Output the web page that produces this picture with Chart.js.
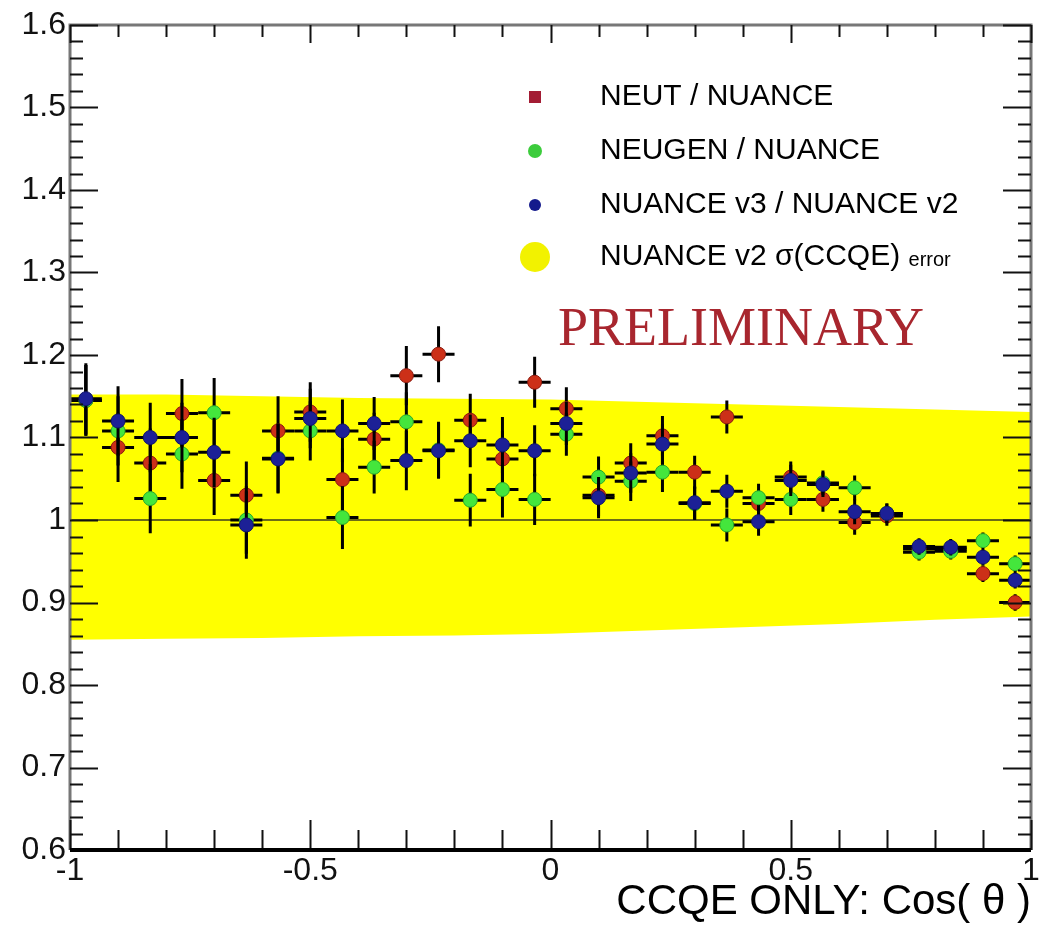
<!DOCTYPE html>
<html>
<head>
<meta charset="utf-8">
<script src="https://cdn.jsdelivr.net/npm/chart.js@4"></script>
<style>
  body { margin: 0; background: #fff; }
  canvas { display: block; }
</style>
</head>
<body>
<canvas id="ratioChart" width="1039" height="928"></canvas>
<script>
// bin centres in cos(theta), 30 bins over [-1, 1]
const binCenters = [-0.967, -0.9, -0.833, -0.767, -0.7, -0.633, -0.567, -0.5, -0.433, -0.367,
                    -0.3, -0.233, -0.167, -0.1, -0.033, 0.033, 0.1, 0.167, 0.233, 0.3,
                    0.367, 0.433, 0.5, 0.567, 0.633, 0.7, 0.767, 0.833, 0.9, 0.967];
const binHalfWidth = 0.0333;

const neutRatio = [1.145, 1.088, 1.069, 1.129, 1.048, 1.030, 1.108, 1.131, 1.049, 1.098,
                   1.175, 1.201, 1.121, 1.074, 1.167, 1.135, 1.030, 1.069, 1.102, 1.058,
                   1.125, 1.020, 1.052, 1.025, 0.997, 1.005, 0.965, 0.965, 0.935, 0.900];
const neugenRatio = [1.145, 1.108, 1.026, 1.080, 1.130, 1.000, 1.075, 1.108, 1.003, 1.064,
                     1.119, 1.085, 1.024, 1.037, 1.025, 1.104, 1.052, 1.047, 1.058, 1.020,
                     0.994, 1.027, 1.025, 1.045, 1.039, 1.008, 0.961, 0.962, 0.975, 0.947];
const nuanceV3Ratio = [1.147, 1.120, 1.100, 1.100, 1.082, 0.994, 1.074, 1.123, 1.108, 1.117,
                       1.072, 1.084, 1.096, 1.091, 1.084, 1.117, 1.027, 1.057, 1.092, 1.021,
                       1.035, 0.998, 1.048, 1.043, 1.010, 1.008, 0.968, 0.967, 0.955, 0.927];
const statError = [0.043, 0.042, 0.042, 0.042, 0.042, 0.041, 0.042, 0.036, 0.038, 0.032,
                   0.036, 0.034, 0.032, 0.034, 0.031, 0.026, 0.025, 0.024, 0.024, 0.020,
                   0.020, 0.017, 0.019, 0.015, 0.015, 0.012, 0.010, 0.010, 0.010, 0.010];

// sigma(CCQE) error band of NUANCE v2
const bandX = [-1, -0.8, -0.6, -0.4, -0.2, 0, 0.2, 0.4, 0.6, 0.8, 1];
const bandHigh = [1.152, 1.152, 1.150, 1.148, 1.147, 1.146, 1.143, 1.140, 1.137, 1.134, 1.131];
const bandLow = [0.855, 0.856, 0.857, 0.859, 0.860, 0.862, 0.866, 0.870, 0.874, 0.879, 0.883];

const xTickLabels = ['-1', '-0.5', '0', '0.5', '1'];
const yTickLabels = ['0.6', '0.7', '0.8', '0.9', '1', '1.1', '1.2', '1.3', '1.4', '1.5', '1.6'];

const pts = (ys) => binCenters.map((x, i) => ({ x: x, y: ys[i] }));

// error bars go under each marker set, one dataset at a time
const errorBars = {
    id: 'errorBars',
    beforeDatasetDraw(chart, args) {
        const ds = chart.data.datasets[args.index];
        if (!ds.errors) return;
        const xs = chart.scales.x, ys = chart.scales.y, ctx = chart.ctx;
        ctx.save();
        ctx.strokeStyle = '#000';
        ctx.lineWidth = 3;
        ds.data.forEach((p, i) => {
            const px = xs.getPixelForValue(p.x), py = ys.getPixelForValue(p.y);
            ctx.beginPath();
            ctx.moveTo(xs.getPixelForValue(p.x - binHalfWidth), py);
            ctx.lineTo(xs.getPixelForValue(p.x + binHalfWidth), py);
            ctx.moveTo(px, ys.getPixelForValue(p.y + ds.errors[i]));
            ctx.lineTo(px, ys.getPixelForValue(p.y - ds.errors[i]));
            ctx.stroke();
        });
        ctx.restore();
    }
};

// frame, inside ticks, legend and the PRELIMINARY stamp
const decorations = {
    id: 'decorations',
    afterDraw(chart) {
        const ctx = chart.ctx, a = chart.chartArea;
        const xs = chart.scales.x, ys = chart.scales.y;
        ctx.save();
        ctx.strokeStyle = '#777';
        ctx.lineWidth = 3;
        ctx.beginPath();
        ctx.moveTo(a.left, a.bottom); ctx.lineTo(a.left, a.top); ctx.lineTo(a.right, a.top);
        ctx.lineTo(a.right, a.bottom);
        ctx.stroke();

        ctx.strokeStyle = '#111';
        ctx.lineWidth = 2;
        ctx.beginPath();
        for (let k = 0; k <= 50; k++) {
            const v = 0.6 + k * 0.02;
            const py = Math.round(ys.getPixelForValue(v)) + 0.5;
            const len = (k % 5 === 0) ? 28 : 13;
            ctx.moveTo(a.left, py); ctx.lineTo(a.left + len, py);
            ctx.moveTo(a.right, py); ctx.lineTo(a.right - len, py);
        }
        for (let k = 0; k <= 20; k++) {
            const v = -1 + k * 0.1;
            const px = Math.round(xs.getPixelForValue(v)) + 0.5;
            const len = (k % 5 === 0) ? 30 : 20;
            ctx.moveTo(px, a.bottom); ctx.lineTo(px, a.bottom - len);
            ctx.moveTo(px, a.top); ctx.lineTo(px, a.top + len * 0.6);
        }
        ctx.stroke();

        ctx.strokeStyle = '#000';
        ctx.lineWidth = 4;
        ctx.beginPath();
        ctx.moveTo(a.left, a.bottom); ctx.lineTo(a.right, a.bottom);
        ctx.stroke();

        // legend
        const entries = [chart.data.datasets[2], chart.data.datasets[3], chart.data.datasets[4], chart.data.datasets[0]];
        const rows = [97, 151, 205, 257];
        ctx.textBaseline = 'middle';
        entries.forEach((ds, i) => {
            const y = rows[i];
            ctx.fillStyle = ds.legendColor;
            ctx.beginPath();
            if (i === 0) ctx.fillRect(529, y - 6, 12, 12);
            else ctx.arc(535, y, ds.legendSize, 0, Math.PI * 2);
            ctx.fill();
            ctx.fillStyle = '#000';
            if (i === 3) {
                const cut = ds.label.lastIndexOf(' ');
                const head = ds.label.slice(0, cut);
                ctx.font = '30px "Liberation Sans"';
                ctx.fillText(head, 600, y);
                const w = ctx.measureText(head + ' ').width;
                ctx.font = '20px "Liberation Sans"';
                ctx.fillText(ds.label.slice(cut + 1), 600 + w, y + 3);
            } else {
                ctx.font = '30px "Liberation Sans"';
                ctx.fillText(ds.label, 600, y);
            }
        });

        ctx.font = '54px "Liberation Serif"';
        ctx.fillStyle = '#a8262e';
        ctx.fillText('PRELIMINARY', 558, 331);
        ctx.restore();
    }
};

new Chart(document.getElementById('ratioChart').getContext('2d'), {
    type: 'scatter',
    data: {
        datasets: [
            {
                type: 'line',
                label: 'NUANCE v2 σ(CCQE) error',
                data: bandX.map((x, i) => ({ x: x, y: bandHigh[i] })),
                borderWidth: 0,
                pointRadius: 0,
                backgroundColor: '#ffff00',
                fill: '+1',
                order: 10,
                legendColor: '#f2f200',
                legendSize: 15,
            },
            {
                type: 'line',
                label: 'band low',
                data: bandX.map((x, i) => ({ x: x, y: bandLow[i] })),
                borderWidth: 0,
                pointRadius: 0,
                fill: false,
                order: 10,
            },
            {
                label: 'NEUT / NUANCE',
                data: pts(neutRatio),
                errors: statError,
                backgroundColor: '#cc3018',
                borderColor: '#8a1a10',
                borderWidth: 1,
                pointRadius: 7,
                order: 3,
                legendColor: '#a31c34',
            },
            {
                label: 'NEUGEN / NUANCE',
                data: pts(neugenRatio),
                errors: statError,
                backgroundColor: '#44e63c',
                borderColor: '#2aa82a',
                borderWidth: 1,
                pointRadius: 7,
                order: 2,
                legendColor: '#3ccc3c',
                legendSize: 7,
            },
            {
                label: 'NUANCE v3 / NUANCE v2',
                data: pts(nuanceV3Ratio),
                errors: statError,
                backgroundColor: '#1c2096',
                borderColor: '#10146a',
                borderWidth: 1,
                pointRadius: 7,
                order: 1,
                legendColor: '#141a8c',
                legendSize: 6,
            },
            {
                type: 'line',
                label: 'unity',
                data: [{ x: -1, y: 1 }, { x: 1, y: 1 }],
                borderColor: 'rgba(60,60,30,0.75)',
                borderWidth: 2,
                pointRadius: 0,
                fill: false,
                order: 9,
            }
        ]
    },
    options: {
        responsive: false,
        animation: false,
        devicePixelRatio: 1,
        layout: { padding: { top: 25, right: 2, left: 0, bottom: 0 } },
        plugins: {
            legend: { display: false },
            tooltip: { enabled: false },
            filler: { propagate: false }
        },
        scales: {
            x: {
                type: 'linear',
                min: -1,
                max: 1,
                afterBuildTicks: (s) => { s.ticks = xTickLabels.map((t) => ({ value: parseFloat(t) })); },
                afterFit: (s) => { s.height = 78; s.paddingLeft = 0; s.paddingRight = 0; },
                ticks: {
                    callback: (v, i) => xTickLabels[i],
                    font: { family: 'Liberation Sans', size: 32 },
                    color: '#111',
                    padding: 2,
                    maxRotation: 0,
                    autoSkip: false,
                },
                grid: { display: false, drawTicks: false },
                border: { display: false },
                title: {
                    display: true,
                    text: 'CCQE ONLY: Cos( θ )',
                    align: 'end',
                    font: { family: 'Liberation Sans', size: 42 },
                    color: '#000',
                    padding: { top: 0, bottom: 0 },
                }
            },
            y: {
                min: 0.6,
                max: 1.6,
                afterBuildTicks: (s) => { s.ticks = yTickLabels.map((t) => ({ value: parseFloat(t) })); },
                afterFit: (s) => { s.width = 70; s.paddingTop = 0; s.paddingBottom = 0; },
                ticks: {
                    callback: (v, i) => yTickLabels[i],
                    font: { family: 'Liberation Sans', size: 32 },
                    color: '#111',
                    padding: 4,
                    autoSkip: false,
                },
                grid: { display: false, drawTicks: false },
                border: { display: false },
            }
        }
    },
    plugins: [errorBars, decorations]
});
</script>
</body>
</html>
